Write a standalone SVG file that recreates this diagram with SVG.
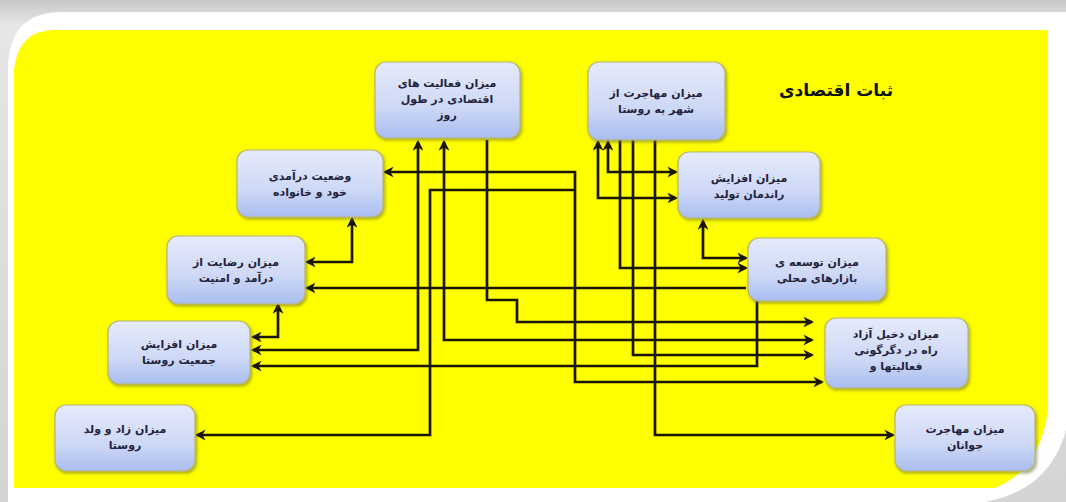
<svg xmlns="http://www.w3.org/2000/svg" width="1066" height="502" viewBox="0 0 1066 502">
<defs>
<linearGradient id="bg" x1="0" y1="0" x2="0" y2="1"><stop offset="0" stop-color="#c8c8c8"/><stop offset="0.05" stop-color="#e6e6e6"/><stop offset="1" stop-color="#d4d4d4"/></linearGradient>
<linearGradient id="nodeFill" x1="0" y1="0" x2="0" y2="1"><stop offset="0" stop-color="#e6ebfb"/><stop offset="0.6" stop-color="#cdd8f6"/><stop offset="1" stop-color="#a9bdf0"/></linearGradient>
<filter id="sh" x="-10%" y="-10%" width="125%" height="130%"><feDropShadow dx="1.5" dy="2" stdDeviation="1.5" flood-color="#6b6b30" flood-opacity="0.55"/></filter>
<marker id="ah" viewBox="0 0 10 10" refX="8" refY="5" markerWidth="4" markerHeight="4" orient="auto-start-reverse" markerUnits="strokeWidth"><path d="M0,0 L10,5 L0,10 L3,5 Z" fill="#1b1505"/></marker>
<style>
.node rect{fill:url(#nodeFill);stroke:#b7b47a;stroke-width:1.2;filter:url(#sh)}
.node text{font-family:"DejaVu Sans",sans-serif;font-size:11px;font-weight:bold;fill:#23233c;text-anchor:middle}
.conn path{fill:none;stroke:#1b1505;stroke-width:2.7;stroke-linejoin:miter}
.a2{marker-start:url(#ah);marker-end:url(#ah)}
.a1{marker-end:url(#ah)}
.title{font-family:"DejaVu Sans",sans-serif;font-size:17px;font-weight:bold;fill:#111;text-anchor:middle}
</style>
</defs>
<rect x="0" y="0" width="1066" height="502" fill="url(#bg)"/>
<path d="M8 70 Q8 12 62 12 H1066 V430 Q1050 490 985 502 H8 Z" fill="#ffffff"/>
<path d="M14 70 Q18 30 55 30 H1048 V410 Q1040 470 995 488 H14 Z" fill="#ffff00"/>
<text class="title" x="836" y="96" direction="rtl">ثبات اقتصادی</text>
<g class="conn">
<path class="a2" d="M385 172 H575 V382 H822"/>
<path class="a1" d="M575 190 H430 V435 H197"/>
<path class="a1" d="M655 140 V435 H893"/>
<path class="a2" d="M418 142 V350 H253"/>
<path class="a2" d="M444 142 V340 H812"/>
<path class="a2" d="M278 305 V337 H253"/>
<path class="a1" d="M757 301 V366 H253"/>
<path class="a1" d="M487 140 V300 H517 V322 H812"/>
<path class="a1" d="M633 140 V355 H812"/>
<path class="a2" d="M598 142 V198 H676"/>
<path class="a2" d="M608 142 V172 H676"/>
<path class="a1" d="M620 140 V268 H746"/>
<path class="a2" d="M703 221 V258 H746"/>
<path class="a1" d="M746 288 H307"/>
<path class="a2" d="M352 219 V262 H307"/>
</g>
<g id="n1" class="node"><rect x="375" y="62" width="145" height="76" rx="11"/><text x="447" y="87" direction="rtl">میزان فعالیت های</text><text x="447" y="103" direction="rtl">اقتصادی در طول</text><text x="447" y="119" direction="rtl">روز</text></g>
<g id="n2" class="node"><rect x="588" y="62" width="137" height="78" rx="11"/><text x="656" y="97" direction="rtl">میزان مهاجرت از</text><text x="656" y="113" direction="rtl">شهر به روستا</text></g>
<g id="n3" class="node"><rect x="237" y="150" width="146" height="67" rx="11"/><text x="310" y="180" direction="rtl">وضعیت درآمدی</text><text x="310" y="196" direction="rtl">خود و خانواده</text></g>
<g id="n4" class="node"><rect x="678" y="152" width="142" height="66" rx="11"/><text x="749" y="182" direction="rtl">میزان افزایش</text><text x="749" y="198" direction="rtl">راندمان تولید</text></g>
<g id="n5" class="node"><rect x="167" y="236" width="138" height="68" rx="11"/><text x="236" y="266" direction="rtl">میزان رضایت از</text><text x="236" y="282" direction="rtl">درآمد و امنیت</text></g>
<g id="n6" class="node"><rect x="748" y="238" width="138" height="63" rx="11"/><text x="817" y="266" direction="rtl">میزان توسعه ی</text><text x="817" y="282" direction="rtl">بازارهای محلی</text></g>
<g id="n7" class="node"><rect x="108" y="321" width="142" height="63" rx="11"/><text x="179" y="348" direction="rtl">میزان افزایش</text><text x="179" y="364" direction="rtl">جمعیت روستا</text></g>
<g id="n8" class="node"><rect x="825" y="318" width="143" height="70" rx="11"/><text x="896" y="338" direction="rtl">میزان دخیل آزاد</text><text x="896" y="354" direction="rtl">راه در دگرگونی</text><text x="896" y="370" direction="rtl">فعالیتها و</text></g>
<g id="n9" class="node"><rect x="55" y="405" width="140" height="66" rx="11"/><text x="125" y="433" direction="rtl">میزان زاد و ولد</text><text x="125" y="449" direction="rtl">روستا</text></g>
<g id="n10" class="node"><rect x="895" y="405" width="140" height="66" rx="11"/><text x="965" y="433" direction="rtl">میزان مهاجرت</text><text x="965" y="449" direction="rtl">جوانان</text></g>
</svg>
